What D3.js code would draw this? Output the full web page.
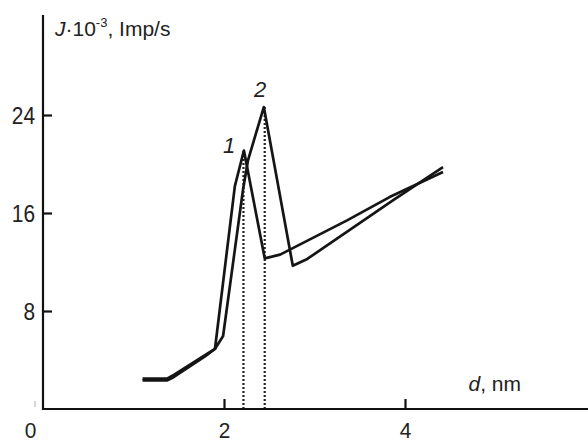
<!DOCTYPE html>
<html lang="en">
<head>
<meta charset="UTF-8">
<title>J vs d</title>
<script src="https://cdn.jsdelivr.net/npm/d3@7"></script>
<style>
  body { margin: 0; background: #fff; }
  svg text { font-family: "Liberation Sans", Arial, sans-serif; fill: #222; }
</style>
</head>
<body>
<svg id="chart" width="588" height="443"></svg>
<script>
// curve 1
var d1 = [1.10, 1.37, 1.43, 1.79, 1.90, 2.12, 2.22, 2.45, 2.62, 3.36, 3.83, 4.42];
var j1 = [2.33, 2.33, 2.55, 4.30, 4.90, 18.2, 21.1, 12.3, 12.6, 15.4, 17.3, 19.35];
// curve 2
var d2 = [1.10, 1.37, 1.45, 1.79, 1.90, 1.99, 2.21, 2.265, 2.44, 2.76, 2.92, 3.87, 4.42];
var j2 = [2.48, 2.48, 2.80, 4.40, 4.90, 5.96, 17.9, 20.3, 24.65, 11.7, 12.25, 17.05, 19.75];
// dotted peak markers
var peakD = [2.215, 2.45];
var peakJ = [21.1, 24.65];
var xTicks = [0, 2, 4];
var yTicks = [8, 16, 24];

var svg = d3.select("#chart");
var x = d3.scaleLinear().domain([0, 6]).range([43, 43 + 6 * 90.5]);
var y = d3.scaleLinear().domain([0, 24]).range([409, 115]);

// dotted verticals
svg.selectAll(".peak").data(peakD).enter().append("line")
    .attr("class", "peak")
    .attr("x1", function (d) { return x(d); })
    .attr("x2", function (d) { return x(d); })
    .attr("y1", y(0))
    .attr("y2", function (d, i) { return y(peakJ[i]); })
    .attr("stroke", "#222")
    .attr("stroke-width", 2.2)
    .attr("stroke-dasharray", "2,2");

var line = d3.line()
    .x(function (p) { return x(p[0]); })
    .y(function (p) { return y(p[1]); });

[[d1, j1], [d2, j2]].forEach(function (c) {
    svg.append("path")
        .datum(d3.zip(c[0], c[1]))
        .attr("d", line)
        .attr("fill", "none")
        .attr("stroke", "#151515")
        .attr("stroke-width", 2.7)
        .attr("stroke-linejoin", "round");
});

// narrow-looking digits
function narrow(sel) {
    sel.attr("textLength", function () { return this.textContent.length * 11.6; })
        .attr("lengthAdjust", "spacingAndGlyphs");
}

// axes
var xAxis = svg.append("g").attr("transform", "translate(0," + y(0) + ")")
    .call(d3.axisTop(x).tickValues(xTicks).tickSize(10).tickFormat(d3.format("d")));
xAxis.select(".domain").remove();
xAxis.append("line").attr("x1", x(0)).attr("x2", 588).attr("stroke", "#111").attr("stroke-width", 2.2);
xAxis.selectAll(".tick line").attr("stroke", "#111").attr("stroke-width", 2.2)
    .filter(function (d) { return d === 0; }).remove();
xAxis.selectAll(".tick text")
    .attr("y", 29).attr("dy", 0)
    .attr("font-size", 22)
    .attr("dx", function (d) { return d === 0 ? -13 : 0; })
    .call(narrow);

var yAxis = svg.append("g").attr("transform", "translate(" + x(0) + ",0)")
    .call(d3.axisRight(y).tickValues(yTicks).tickSize(9));
yAxis.select(".domain").remove();
yAxis.append("line").attr("y1", 15).attr("y2", y(0) + 1).attr("stroke", "#111").attr("stroke-width", 2.2);
yAxis.selectAll(".tick line").attr("stroke", "#111").attr("stroke-width", 2.2);
yAxis.selectAll(".tick text")
    .attr("x", -8).attr("text-anchor", "end").attr("dy", "0.36em")
    .attr("font-size", 24)
    .call(narrow);

// faint mark near origin
svg.append("line").attr("x1", 35).attr("x2", 35).attr("y1", 401).attr("y2", 407)
    .attr("stroke", "#bbb").attr("stroke-width", 1.2);

// axis labels
var yl = svg.append("text").attr("x", 55).attr("y", 36).attr("font-size", 21);
yl.append("tspan").attr("font-style", "italic").text("J");
yl.append("tspan").text("·10");
yl.append("tspan").attr("font-size", 13).attr("dy", -9).text("-3");
yl.append("tspan").attr("dy", 9).text(", Imp/s");

var xl = svg.append("text").attr("x", 521).attr("y", 391).attr("text-anchor", "end").attr("font-size", 21);
xl.append("tspan").attr("font-style", "italic").text("d");
xl.append("tspan").text(", nm");

// curve labels
svg.append("text").attr("x", 229).attr("y", 153).attr("text-anchor", "middle")
    .attr("font-size", 22).attr("font-style", "italic").text("1");
svg.append("text").attr("x", 260).attr("y", 97).attr("text-anchor", "middle")
    .attr("font-size", 22).attr("font-style", "italic").text("2");
</script>
</body>
</html>
